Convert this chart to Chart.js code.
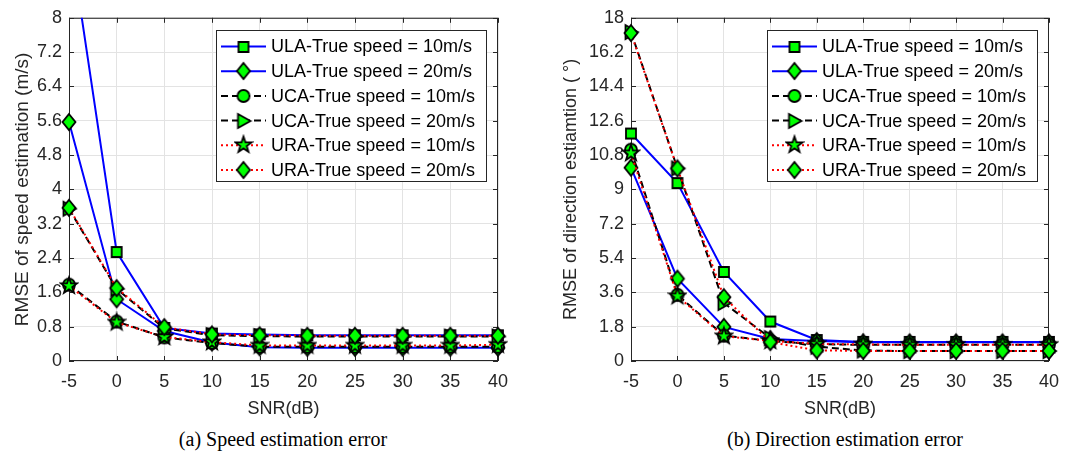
<!DOCTYPE html>
<html>
<head>
<meta charset="utf-8">
<script src="https://cdn.jsdelivr.net/npm/chart.js@4.4.1/dist/chart.umd.min.js"></script>
<style>
  body { margin: 0; background: #fff; width: 1069px; height: 462px; position: relative; overflow: hidden; }
  canvas { position: absolute; top: 0; }
  #speedChart { left: 0; }
  #dirChart { left: 535px; }
  .caption { position: absolute; top: 428px; font-family: "Liberation Serif", "Times New Roman", serif;
             font-size: 20px; color: #000; white-space: nowrap; transform: translateX(-50%); }
</style>
</head>
<body>
<canvas id="speedChart" width="535" height="420"></canvas>
<canvas id="dirChart" width="534" height="420"></canvas>
<div class="caption" style="left:283px">(a) Speed estimation error</div>
<div class="caption" style="left:845px">(b) Direction estimation error</div>
<script>
// SNR axis (dB)
const snr = [-5, 0, 5, 10, 15, 20, 25, 30, 35, 40];

// speed RMSE (m/s)
const ulaSpeed10 = [10.0, 2.54, 0.77, 0.64, 0.62, 0.60, 0.60, 0.60, 0.60, 0.60];
const ulaSpeed20 = [5.57, 1.44, 0.70, 0.43, 0.32, 0.31, 0.31, 0.31, 0.31, 0.31];
const ucaSpeed10 = [1.78, 0.92, 0.55, 0.42, 0.33, 0.33, 0.33, 0.33, 0.33, 0.33];
const ucaSpeed20 = [3.55, 1.68, 0.76, 0.60, 0.58, 0.57, 0.57, 0.57, 0.57, 0.57];
const uraSpeed10 = [1.75, 0.90, 0.56, 0.44, 0.36, 0.36, 0.36, 0.36, 0.36, 0.38];
const uraSpeed20 = [3.57, 1.70, 0.79, 0.62, 0.60, 0.59, 0.59, 0.59, 0.59, 0.59];

// direction RMSE (deg)
const ulaDir10 = [11.93, 9.33, 4.67, 2.07, 1.10, 1.00, 1.00, 1.00, 1.00, 1.00];
const ulaDir20 = [10.14, 4.32, 1.79, 1.15, 1.05, 0.98, 0.98, 0.98, 0.98, 0.98];
const ucaDir10 = [11.08, 3.47, 1.33, 1.05, 0.88, 0.85, 0.85, 0.85, 0.85, 0.85];
const ucaDir20 = [17.25, 10.10, 3.04, 1.20, 0.75, 0.55, 0.52, 0.52, 0.52, 0.52];
const uraDir10 = [10.90, 3.40, 1.30, 1.05, 0.90, 0.87, 0.85, 0.85, 0.85, 0.85];
const uraDir20 = [17.20, 10.10, 3.35, 0.99, 0.56, 0.53, 0.53, 0.53, 0.53, 0.53];

const seriesNames = [
  'ULA-True speed = 10m/s', 'ULA-True speed = 20m/s',
  'UCA-True speed = 10m/s', 'UCA-True speed = 20m/s',
  'URA-True speed = 10m/s', 'URA-True speed = 20m/s'
];

// y tick labels
const speedTicks = [0, 0.8, 1.6, 2.4, 3.2, 4, 4.8, 5.6, 6.4, 7.2, 8];
const dirTicks = [0, 1.8, 3.6, 5.4, 7.2, 9, 10.8, 12.6, 14.4, 16.2, 18];

const FONT = '"Liberation Sans", Arial, Helvetica, sans-serif';
const AXIS = '#262626';

// filled green markers with black edge
function marker(shape) {
  const c = document.createElement('canvas');
  c.width = 20; c.height = 22;
  const g = c.getContext('2d');
  g.translate(10, 11);
  g.beginPath();
  if (shape === 'square') {
    g.rect(-5, -5, 10, 10);
  } else if (shape === 'diamond') {
    g.moveTo(0, -8); g.lineTo(6.5, 0); g.lineTo(0, 8); g.lineTo(-6.5, 0); g.closePath();
  } else if (shape === 'circle') {
    g.arc(0, 0, 6, 0, Math.PI * 2);
  } else if (shape === 'triangle') {
    g.moveTo(7, 0); g.lineTo(-5.5, -7); g.lineTo(-5.5, 7); g.closePath();
  } else if (shape === 'star') {
    for (let k = 0; k < 10; k++) {
      const r = k % 2 ? 3.4 : 8.5;
      const a = -Math.PI / 2 + k * Math.PI / 5;
      if (k === 0) g.moveTo(r * Math.cos(a), r * Math.sin(a));
      else g.lineTo(r * Math.cos(a), r * Math.sin(a));
    }
    g.closePath();
  }
  g.fillStyle = '#00ff00';
  g.fill();
  g.lineWidth = 1.8;
  g.strokeStyle = '#000';
  g.lineJoin = 'miter';
  g.stroke();
  return c;
}

const styles = [
  { color: '#0000ff', dash: [], shape: 'square' },
  { color: '#0000ff', dash: [], shape: 'diamond' },
  { color: '#000000', dash: [7, 4], shape: 'circle' },
  { color: '#000000', dash: [7, 4], shape: 'triangle' },
  { color: '#ff0000', dash: [2, 3], shape: 'star' },
  { color: '#ff0000', dash: [2, 3], shape: 'diamond' }
];
styles.forEach(s => { s.img = marker(s.shape); });

// box around the plot area with inward tick marks on all four sides
const axisBox = {
  id: 'axisBox',
  beforeDatasetsDraw(chart) {
    const { ctx, chartArea: a, scales } = chart;
    ctx.save();
    ctx.strokeStyle = AXIS;
    ctx.lineWidth = 1;
    ctx.strokeRect(a.left + 0.5, a.top + 0.5, a.right - a.left - 1, a.bottom - a.top - 1);
    ctx.beginPath();
    scales.x.ticks.forEach(t => {
      const px = Math.round(scales.x.getPixelForValue(t.value)) + 0.5;
      ctx.moveTo(px, a.bottom); ctx.lineTo(px, a.bottom - 5);
      ctx.moveTo(px, a.top); ctx.lineTo(px, a.top + 5);
    });
    scales.y.ticks.forEach(t => {
      const py = Math.round(scales.y.getPixelForValue(t.value)) + 0.5;
      ctx.moveTo(a.left, py); ctx.lineTo(a.left + 5, py);
      ctx.moveTo(a.right, py); ctx.lineTo(a.right - 5, py);
    });
    ctx.stroke();
    ctx.restore();
  }
};

// legend box in the upper right corner: line sample, marker, label
const boxLegend = {
  id: 'boxLegend',
  afterDatasetsDraw(chart) {
    const { ctx, chartArea: a } = chart;
    ctx.save();
    ctx.font = '18px ' + FONT;
    const textW = Math.max(...seriesNames.map(n => ctx.measureText(n).width));
    const w = Math.round(55 + textW + 11), h = 151;
    const x0 = Math.round(a.right - 12 - w), y0 = Math.round(a.top + 12);
    ctx.fillStyle = '#fff';
    ctx.fillRect(x0, y0, w, h);
    ctx.strokeStyle = AXIS;
    ctx.lineWidth = 1;
    ctx.strokeRect(x0 + 0.5, y0 + 0.5, w, h);
    seriesNames.forEach((name, i) => {
      const s = styles[i];
      const cy = y0 + 16.5 + i * 24.7;
      ctx.beginPath();
      ctx.strokeStyle = s.color;
      ctx.lineWidth = 2;
      ctx.setLineDash(s.dash);
      ctx.moveTo(x0 + 5, cy); ctx.lineTo(x0 + 50, cy);
      ctx.stroke();
      ctx.setLineDash([]);
      ctx.drawImage(s.img, x0 + 27.5 - 10, Math.round(cy) - 11);
      ctx.fillStyle = '#000';
      ctx.textBaseline = 'middle';
      ctx.fillText(name, x0 + 55, cy + 1);
    });
    ctx.restore();
  }
};

function makeChart(id, series, yTicks, yTitle, geom) {
  const datasets = series.map((vals, i) => ({
    label: seriesNames[i],
    data: snr.map((x, k) => ({ x: x, y: vals[k] })),
    borderColor: styles[i].color,
    borderDash: styles[i].dash,
    borderWidth: 2,
    pointStyle: styles[i].img,
    pointRadius: 7,
    tension: 0,
    fill: false,
    order: series.length - i,
    clip: { left: 12, top: 0, right: 12, bottom: 12 }
  }));
  const tickFont = { family: FONT, size: 18 };
  return new Chart(document.getElementById(id), {
    type: 'line',
    data: { datasets },
    plugins: [axisBox, boxLegend],
    options: {
      responsive: false,
      animation: false,
      events: [],
      layout: { padding: { left: 0, right: geom.right, top: 11, bottom: 0 } },
      plugins: { legend: { display: false }, tooltip: { enabled: false } },
      scales: {
        x: {
          type: 'linear', min: -5, max: 40,
          afterBuildTicks: s => { s.ticks = snr.map(v => ({ value: v })); },
          afterFit: s => { s.height = 59; },
          ticks: { font: tickFont, color: AXIS, padding: 10, maxRotation: 0, autoSkip: false },
          grid: { color: '#e3e3e3', drawTicks: false },
          border: { display: false },
          title: { display: true, text: 'SNR(dB)', font: tickFont, color: AXIS, padding: { top: 0, bottom: 0 } }
        },
        y: {
          type: 'linear', min: 0, max: yTicks[yTicks.length - 1],
          afterBuildTicks: s => { s.ticks = yTicks.map(v => ({ value: v })); },
          afterFit: s => { s.width = geom.yWidth; },
          ticks: { font: tickFont, color: AXIS, padding: 7, callback: v => String(v) },
          grid: { color: '#e3e3e3', drawTicks: false },
          border: { display: false },
          title: { display: true, text: yTitle, font: { family: FONT, size: geom.titleSize }, color: AXIS,
                   padding: { top: geom.titlePad, bottom: 0 } }
        }
      }
    }
  });
}

makeChart('speedChart',
  [ulaSpeed10, ulaSpeed20, ucaSpeed10, ucaSpeed20, uraSpeed10, uraSpeed20],
  speedTicks, 'RMSE of speed estimation (m/s)',
  { right: 37, yWidth: 69, titlePad: 11, titleSize: 19 });

makeChart('dirChart',
  [ulaDir10, ulaDir20, ucaDir10, ucaDir20, uraDir10, uraDir20],
  dirTicks, 'RMSE of direction estiamtion ( \u00b0)',
  { right: 12, yWidth: 96, titlePad: 25, titleSize: 18 });
</script>
</body>
</html>
